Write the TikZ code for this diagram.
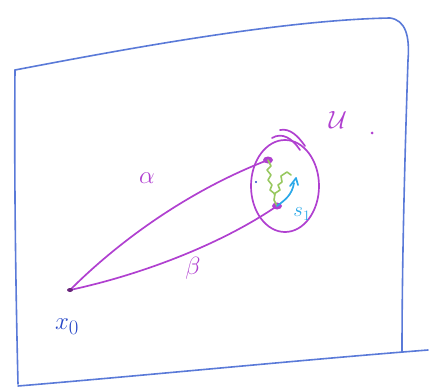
\documentclass[tikz,border=0pt]{standalone}
\definecolor{fblue}{HTML}{5A7AD8}
\definecolor{pur}{HTML}{B040D0}
\definecolor{gr}{HTML}{98C860}
\definecolor{cy}{HTML}{2AA8E8}
\definecolor{tblue}{HTML}{2848C8}
\begin{document}
\begin{tikzpicture}[x=1pt,y=-1pt,
  frame/.style={draw=fblue, line width=1.6pt, line cap=round, line join=round},
  purp/.style={draw=pur, line width=1.7pt, line cap=round},
  grn/.style={draw=gr, line width=1.6pt, line cap=round, line join=round},
  cyn/.style={draw=cy, line width=1.7pt, line cap=round, line join=round},
  plab/.style={text=pur, font=\fontsize{26}{28}\selectfont},
  blab/.style={text=tblue, font=\fontsize{30}{32}\selectfont}]
\useasboundingbox (0,0) rectangle (430,390);
% frame
\draw[frame] (15,70) .. controls (120,50) and (280,20) .. (390,18)
  .. controls (405,20) and (410,35) .. (408,60)
  .. controls (405,150) and (402,260) .. (402,352);
\draw[frame] (15,70) .. controls (14,180) and (16,300) .. (18,384);
\draw[frame] (18,386) .. controls (150,375) and (300,360) .. (428,350);
% points
\coordinate (x0) at (70,290);
\coordinate (a) at (268,160);
\coordinate (b) at (277,206);
% alpha curve
\draw[purp] (x0) .. controls (120,240) and (190,190) .. (a);
% beta curve
\draw[purp] (x0) .. controls (140,275) and (220,245) .. (b);
% ellipse U
\draw[purp] (285,186) ellipse [x radius=34, y radius=46];
\draw[purp] (272,138) .. controls (282,132) and (292,138) .. (300,150);
\draw[purp] (280,130) .. controls (290,128) and (298,136) .. (305,146);
% dots
\fill[pur] (a) ellipse [x radius=5, y radius=3.5];
\fill[pur] (b) ellipse [x radius=5, y radius=3.5];
\fill[pur!60!black] (x0) ellipse [x radius=3, y radius=2];
\fill[tblue] (256,182) circle (1.2);
% green wiggle
\draw[grn] (a) -- (271,166) -- (267,170) -- (271,175) -- (268,180) -- (272,185) -- (270,190) -- (275,194) -- (274,200) -- (b);
\draw[grn] (274,194) -- (280,190) -- (278,185) -- (282,182) -- (281,176) -- (287,172) -- (291,175);
% cyan path
\draw[cyn] (b) .. controls (285,200) and (292,195) .. (294,183);
\draw[cyn] (290,186) -- (296,178) -- (298,185);
% labels
\node[plab] (alpha) at (147,178) {$\alpha$};
\node[plab] (beta) at (193,268) {$\beta$};
\node[plab] (U) at (338,120) {$\mathcal{U}$};
\fill[pur] (372,133) circle (1.5);
\node[blab] (x0l) at (67,327) {$x_0$};
\node[text=cy, font=\fontsize{20}{22}\selectfont] (s1) at (302,214) {$s_1$};
\end{tikzpicture}
\end{document}
